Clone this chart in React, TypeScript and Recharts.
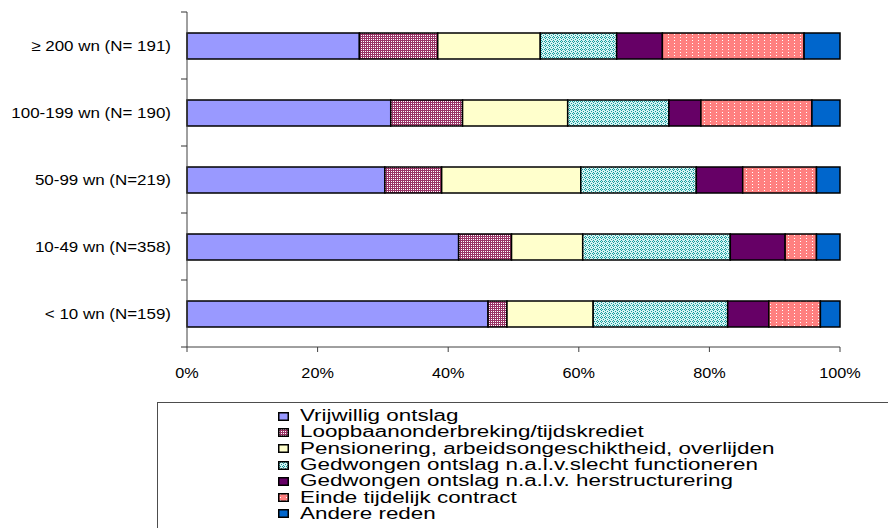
import { BarChart, Bar, XAxis, YAxis, Legend } from "recharts";

// Vertrekredenen per bedrijfsgrootte (aandeel in %)
const categories = [
  "≥ 200 wn (N= 191)",
  "100-199 wn (N= 190)",
  "50-99 wn (N=219)",
  "10-49 wn (N=358)",
  "< 10 wn (N=159)",
];

const vrijwillig = [26.4, 31.2, 30.3, 41.6, 46.1];
const loopbaan = [12.0, 11.0, 8.7, 8.1, 2.9];
const pensionering = [15.7, 16.1, 21.3, 10.9, 13.2];
const slechtFunctioneren = [11.7, 15.5, 17.7, 22.6, 20.6];
const herstructurering = [7.0, 4.9, 7.1, 8.4, 6.3];
const eindeContract = [21.7, 17.0, 11.3, 4.8, 7.9];
const andere = [5.5, 4.3, 3.6, 3.6, 3.0];

const xTicks = [0, 20, 40, 60, 80, 100];

const series = [
  { key: "vrijwillig", name: "Vrijwillig ontslag", fill: "#9999FF" },
  { key: "loopbaan", name: "Loopbaanonderbreking/tijdskrediet", fill: "url(#patLoopbaan)" },
  { key: "pensionering", name: "Pensionering, arbeidsongeschiktheid, overlijden", fill: "#FFFFCC" },
  { key: "slecht", name: "Gedwongen ontslag n.a.l.v.slecht functioneren", fill: "url(#patSlecht)" },
  { key: "herstruct", name: "Gedwongen ontslag n.a.l.v. herstructurering", fill: "#660066" },
  { key: "einde", name: "Einde tijdelijk contract", fill: "url(#patEinde)" },
  { key: "andere", name: "Andere reden", fill: "#0066CC" },
];

const data = categories.map((cat, i) => ({
  cat,
  vrijwillig: vrijwillig[i],
  loopbaan: loopbaan[i],
  pensionering: pensionering[i],
  slecht: slechtFunctioneren[i],
  herstruct: herstructurering[i],
  einde: eindeContract[i],
  andere: andere[i],
}));

const FONT = "'Liberation Sans', Arial, Helvetica, sans-serif";

const CHART_W = 888;
const CHART_H = 528;
const MARGIN = { top: 12, right: 48, bottom: 151, left: 0 };
const X_AXIS_H = 30;
const PLOT_H = CHART_H - MARGIN.top - MARGIN.bottom - X_AXIS_H;
const BAND = PLOT_H / categories.length;
const LABEL_GAP = 16;
const TICK_LEN = 6;

// category label plus Excel-style tick marks on the band edges
function CategoryTick({ x, y, payload, index }: any) {
  const tx = Number(x);
  const ty = Number(y);
  const axisX = tx + LABEL_GAP;
  const half = BAND / 2;
  const isLast = Number(index) === categories.length - 1;
  return (
    <g>
      <line x1={axisX - TICK_LEN} x2={axisX} y1={ty - half} y2={ty - half} stroke="#333" strokeWidth={1} />
      {isLast && (
        <line x1={axisX - TICK_LEN} x2={axisX} y1={ty + half} y2={ty + half} stroke="#333" strokeWidth={1} />
      )}
      <g transform={`translate(${tx},${ty}) scale(1.13,1)`}>
        <text x={0} y={0} dy="0.35em" textAnchor="end" fontSize={15} fill="#000" fontFamily={FONT}>
          {payload.value}
        </text>
      </g>
    </g>
  );
}

function PercentTick({ x, y, payload }: any) {
  return (
    <g transform={`translate(${x},${y}) scale(1.16,1)`}>
      <text x={0} y={0} dy="0.71em" textAnchor="middle" fontSize={14} fill="#000" fontFamily={FONT}>
        {`${payload.value}%`}
      </text>
    </g>
  );
}

// legend follows series order (top to bottom), not the reversed stack order
function LegendBox() {
  return (
    <div
      style={{
        width: 740,
        height: 140,
        boxSizing: "border-box",
        borderTop: "1px solid #4d4d4d",
        borderLeft: "1px solid #4d4d4d",
        paddingTop: 5,
        paddingLeft: 120,
        fontFamily: FONT,
      }}
    >
      {series.map((s) => (
        <div key={s.key} style={{ display: "flex", alignItems: "center", height: 16.3 }}>
          <svg width={11} height={9} style={{ flex: "none" }}>
            <rect x={0.75} y={0.75} width={9.5} height={7.5} fill={s.fill} stroke="#000" strokeWidth={1.5} />
          </svg>
          <span
            style={{
              marginLeft: 11,
              fontSize: 16,
              lineHeight: "16px",
              color: "#000",
              whiteSpace: "nowrap",
              display: "inline-block",
              transform: "scaleX(1.4)",
              transformOrigin: "left center",
            }}
          >
            {s.name}
          </span>
        </div>
      ))}
    </div>
  );
}

export default function App() {
  return (
    <div
      style={{
        position: "absolute",
        left: 0,
        top: 0,
        width: CHART_W,
        height: CHART_H,
        overflow: "hidden",
        background: "#fff",
      }}
    >
      <BarChart width={CHART_W} height={CHART_H} data={data} layout="vertical" margin={MARGIN}>
        <defs>
          <pattern id="patLoopbaan" width={4} height={4} patternUnits="userSpaceOnUse">
            <rect width={4} height={4} fill="#993366" />
            <rect x={1} y={1} width={1} height={1} fill="#fff" />
            <rect x={3} y={3} width={1} height={1} fill="#fff" />
            <rect x={1} y={3} width={1} height={1} fill="#fff" />
            <rect x={3} y={1} width={1} height={1} fill="#fff" />
          </pattern>
          <pattern id="patSlecht" width={4} height={4} patternUnits="userSpaceOnUse">
            <rect width={4} height={4} fill="#d6f4f4" />
            <rect x={1} y={0} width={1} height={1} fill="#179c9c" />
            <rect x={0} y={1} width={1} height={1} fill="#179c9c" />
            <rect x={2} y={1} width={1} height={1} fill="#179c9c" />
            <rect x={1} y={2} width={1} height={1} fill="#179c9c" />
            <rect x={3} y={3} width={1} height={1} fill="#179c9c" />
          </pattern>
          <pattern id="patEinde" width={6} height={3} patternUnits="userSpaceOnUse">
            <rect width={6} height={3} fill="#FF8080" />
            <rect x={2} y={1} width={1} height={1} fill="#fff" />
          </pattern>
        </defs>
        <XAxis
          type="number"
          domain={[0, 100]}
          ticks={xTicks}
          interval={0}
          height={X_AXIS_H}
          stroke="#404040"
          tickSize={5}
          tickMargin={16}
          tick={<PercentTick />}
        />
        <YAxis
          type="category"
          dataKey="cat"
          width={187}
          stroke="#404040"
          tickLine={false}
          tickSize={0}
          tickMargin={LABEL_GAP}
          tick={<CategoryTick />}
          interval={0}
        />
        <Legend
          layout="vertical"
          align="center"
          verticalAlign="middle"
          content={<LegendBox />}
          wrapperStyle={{ left: 157, top: 402, width: 740, height: 140 }}
        />
        {series.map((s) => (
          <Bar
            key={s.key}
            dataKey={s.key}
            name={s.name}
            stackId="a"
            fill={s.fill}
            stroke="#000"
            strokeWidth={1.5}
            barSize={26}
            isAnimationActive={false}
          />
        ))}
      </BarChart>
    </div>
  );
}
